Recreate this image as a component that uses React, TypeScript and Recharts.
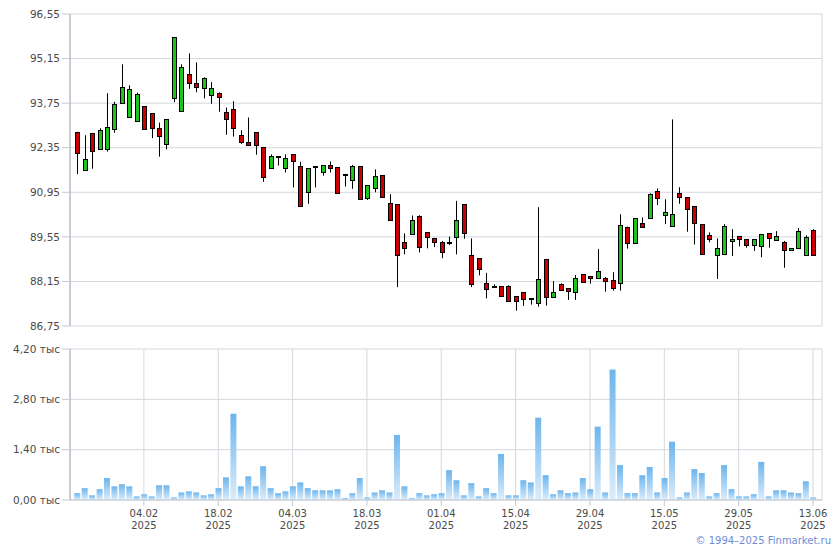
import { ComposedChart, Bar, XAxis, YAxis, CartesianGrid } from 'recharts'

// daily candles, 22.01.2025 .. 13.06.2025
const OPEN = [
  92.83, 91.64, 92.80, 92.30, 92.30, 92.93, 93.74, 93.30, 93.19, 93.65,
  93.43, 92.96, 92.48, 93.90, 93.50, 94.66, 94.37, 94.24, 94.00, 94.06,
  93.46, 93.56, 92.74, 92.52, 92.83, 92.36, 91.70, 92.06, 91.70, 92.14,
  91.77, 90.97, 91.76, 91.60, 91.81, 91.73, 91.52, 91.33, 91.78, 90.76,
  91.07, 91.48, 90.60, 90.57, 89.38, 89.63, 90.20, 89.70, 89.52, 89.38,
  89.38, 89.53, 90.57, 88.97, 88.88, 88.09, 88.01, 88.00, 88.00, 87.68,
  87.81, 87.63, 87.48, 88.84, 87.67, 88.06, 87.93, 87.83, 88.37, 88.32,
  88.25, 88.25, 88.21, 88.09, 89.87, 89.37, 89.98, 90.13, 90.99, 90.25,
  89.90, 90.92, 90.79, 90.51, 89.94, 89.60, 88.97, 89.00, 89.41, 89.57,
  89.47, 89.28, 89.25, 89.67, 89.46, 89.39, 89.13, 89.19, 88.97, 89.76,
]
const HIGH = [
  92.85, 92.74, 92.80, 92.96, 94.06, 93.79, 94.97, 94.31, 94.08, 93.65,
  93.43, 93.14, 93.24, 95.83, 94.97, 95.31, 95.03, 94.56, 94.41, 94.09,
  93.61, 93.81, 92.90, 93.30, 92.83, 92.36, 92.14, 92.09, 92.14, 92.14,
  91.91, 91.71, 91.77, 91.80, 91.92, 91.73, 91.53, 91.81, 91.78, 91.17,
  91.67, 91.48, 90.89, 90.57, 89.66, 90.22, 90.23, 89.70, 89.52, 89.42,
  89.56, 90.68, 90.57, 89.50, 88.88, 88.42, 88.06, 88.00, 88.03, 87.68,
  87.81, 87.63, 90.48, 88.84, 88.16, 88.09, 87.93, 88.35, 88.37, 88.32,
  89.17, 88.29, 88.44, 90.26, 89.87, 90.13, 90.16, 90.92, 91.07, 90.73,
  93.24, 91.11, 90.79, 90.51, 89.94, 89.69, 89.50, 89.95, 89.79, 89.57,
  89.47, 89.47, 89.64, 89.67, 89.73, 89.42, 89.19, 89.83, 89.60, 89.79,
]
const LOW = [
  91.52, 91.64, 91.69, 92.30, 92.23, 92.82, 93.74, 93.30, 93.19, 92.93,
  92.65, 92.07, 92.30, 93.78, 93.50, 94.20, 94.09, 93.90, 93.73, 93.48,
  92.76, 92.70, 92.47, 92.43, 92.13, 91.28, 91.70, 91.79, 91.57, 91.10,
  90.51, 90.59, 91.10, 91.47, 91.57, 90.92, 91.13, 91.06, 90.73, 90.71,
  90.95, 90.79, 90.07, 87.97, 89.00, 89.63, 89.06, 89.19, 89.23, 88.88,
  89.29, 89.00, 89.49, 87.97, 88.34, 87.62, 87.98, 87.70, 87.52, 87.23,
  87.38, 87.42, 87.36, 87.39, 87.67, 87.87, 87.57, 87.57, 88.12, 88.08,
  88.25, 87.83, 87.86, 87.86, 89.18, 89.37, 89.87, 90.13, 90.55, 89.95,
  89.90, 90.59, 89.71, 89.31, 89.00, 89.38, 88.23, 89.00, 88.95, 89.25,
  89.21, 89.11, 88.91, 89.21, 89.46, 88.58, 89.13, 89.19, 88.97, 88.97,
]
const CLOSE = [
  92.19, 91.99, 92.26, 92.91, 92.99, 93.71, 94.25, 94.18, 94.03, 92.93,
  92.96, 92.71, 93.24, 95.83, 94.87, 94.37, 94.27, 94.53, 94.22, 93.93,
  93.26, 92.96, 92.52, 92.43, 92.43, 91.42, 92.10, 92.08, 92.02, 91.92,
  90.51, 91.71, 91.73, 91.80, 91.72, 90.92, 91.50, 91.78, 90.73, 91.17,
  91.45, 90.79, 90.07, 88.97, 89.19, 90.08, 89.22, 89.54, 89.38, 89.07,
  89.37, 90.07, 89.68, 88.08, 88.53, 87.92, 87.99, 87.70, 87.52, 87.52,
  87.61, 87.62, 88.22, 87.67, 87.81, 87.87, 87.84, 88.25, 88.12, 88.25,
  88.47, 88.17, 87.93, 89.91, 89.35, 90.13, 89.87, 90.89, 90.78, 90.32,
  90.26, 90.81, 90.42, 89.98, 89.00, 89.49, 89.19, 89.89, 89.48, 89.47,
  89.28, 89.47, 89.64, 89.50, 89.58, 89.15, 89.19, 89.73, 89.55, 88.97,
]
// volume, thousands
const VOLUME = [
  0.19, 0.33, 0.13, 0.30, 0.61, 0.38, 0.44, 0.38, 0.10, 0.16,
  0.10, 0.41, 0.41, 0.07, 0.21, 0.24, 0.21, 0.13, 0.16, 0.33,
  0.63, 2.40, 0.38, 0.66, 0.38, 0.94, 0.33, 0.19, 0.24, 0.38,
  0.49, 0.33, 0.27, 0.27, 0.27, 0.30, 0.05, 0.19, 0.61, 0.07,
  0.21, 0.27, 0.21, 1.81, 0.38, 0.05, 0.19, 0.13, 0.16, 0.19,
  0.83, 0.55, 0.13, 0.47, 0.10, 0.33, 0.19, 1.28, 0.13, 0.13,
  0.55, 0.49, 2.29, 0.69, 0.16, 0.27, 0.19, 0.21, 0.61, 0.30,
  2.04, 0.21, 3.63, 0.97, 0.19, 0.19, 0.69, 0.92, 0.21, 0.61,
  1.62, 0.07, 0.21, 0.86, 0.75, 0.10, 0.19, 0.97, 0.30, 0.10,
  0.10, 0.16, 1.06, 0.10, 0.27, 0.27, 0.21, 0.19, 0.52, 0.07,
]

const TICK_IDX = [9, 19, 29, 39, 49, 59, 69, 79, 89, 99]
const TICK_DAYS = ['04.02', '18.02', '04.03', '18.03', '01.04', '15.04', '29.04', '15.05', '29.05', '13.06']
const TICK_YEARS = ['2025', '2025', '2025', '2025', '2025', '2025', '2025', '2025', '2025', '2025']
const PRICE_TICKS = [86.75, 88.15, 89.55, 90.95, 92.35, 93.75, 95.15, 96.55]
const VOL_TICKS = [0, 1.4, 2.8, 4.2]

const rows = OPEN.map((o, i) => ({ i, o, h: HIGH[i], l: LOW[i], c: CLOSE[i], v: VOLUME[i] }))

const FONT = '"DejaVu Sans", Verdana, sans-serif'
const GRID = '#d3d8dd'
const AXIS = '#a9abbf'
const TEXT = '#4a4a4a'
const X_DOMAIN: [number, number] = [-0.94, 100.21]

const comma = (v: number) => v.toFixed(2).replace('.', ',')

function Candle(props: any) {
  const { x, y, width, height, payload } = props
  const { o, h, l, c } = payload
  const k = h > l ? height / (h - l) : 0
  const at = (v: number) => y + (h - v) * k
  const cx = Math.round(x + width / 2) + 0.5
  const top = Math.round(at(Math.max(o, c))) + 0.5
  const bot = Math.round(at(Math.min(o, c))) + 0.5
  return (
    <g>
      <line x1={cx} x2={cx} y1={y} y2={y + height} stroke="#000" strokeWidth={1} />
      <rect
        x={cx - 2}
        y={top}
        width={4}
        height={Math.max(bot - top, 1)}
        fill={c >= o ? '#1cc41c' : '#cc0000'}
        stroke="#000"
        strokeWidth={1}
      />
    </g>
  )
}

function DateTick({ x, y, payload }: any) {
  const n = TICK_IDX.indexOf(payload.value)
  if (n < 0) return null
  return (
    <text x={x} y={y} textAnchor="middle" fill={TEXT} fontSize={10} fontFamily={FONT}>
      <tspan x={x} dy={9.5}>{TICK_DAYS[n]}</tspan>
      <tspan x={x} dy={12}>{TICK_YEARS[n]}</tspan>
    </text>
  )
}

export default function App() {
  return (
    <div style={{ position: 'absolute', left: 0, top: 0, width: 840, height: 550, background: '#fff', fontFamily: FONT }}>
      <div style={{ position: 'absolute', left: 0, top: 0 }}>
        <ComposedChart width={840} height={332} data={rows} margin={{ top: 14, right: 18, bottom: 6, left: 0 }}>
          <CartesianGrid stroke={GRID} />
          <XAxis
            dataKey="i"
            type="number"
            domain={X_DOMAIN}
            ticks={TICK_IDX}
            height={0}
            tick={false}
            axisLine={false}
            tickLine={false}
          />
          <YAxis
            width={70}
            domain={[86.75, 96.55]}
            ticks={PRICE_TICKS}
            tickFormatter={comma}
            tick={{ fill: TEXT, fontSize: 10.5, fontFamily: FONT }}
            tickSize={8}
            tickMargin={2}
            tickLine={{ stroke: '#c3c9d0' }}
            axisLine={{ stroke: AXIS }}
          />
          <Bar
            dataKey={(d: any) => [d.l, d.h]}
            barSize={6}
            shape={<Candle />}
            isAnimationActive={false}
          />
        </ComposedChart>
      </div>
      <div style={{ position: 'absolute', left: 0, top: 332 }}>
        <ComposedChart width={840} height={218} data={rows} margin={{ top: 17, right: 18, bottom: 14, left: 0 }}>
          <defs>
            <linearGradient id="volFill" x1="0" y1="0" x2="0" y2="1">
              <stop offset="0%" stopColor="#6cb5ee" />
              <stop offset="100%" stopColor="#dcedfb" />
            </linearGradient>
          </defs>
          <CartesianGrid stroke={GRID} />
          <XAxis
            dataKey="i"
            type="number"
            domain={X_DOMAIN}
            ticks={TICK_IDX}
            height={36}
            tick={<DateTick />}
            tickSize={6}
            tickMargin={1}
            tickLine={{ stroke: '#c3c9d0' }}
            axisLine={{ stroke: '#c3c9d0' }}
          />
          <YAxis
            width={70}
            domain={[0, 4.2]}
            ticks={VOL_TICKS}
            tickFormatter={(v: number) => comma(v) + ' тыс'}
            tick={{ fill: TEXT, fontSize: 10.5, fontFamily: FONT }}
            tickSize={8}
            tickMargin={2}
            tickLine={{ stroke: '#c3c9d0' }}
            axisLine={{ stroke: AXIS }}
          />
          <Bar dataKey="v" barSize={6} fill="url(#volFill)" isAnimationActive={false} />
        </ComposedChart>
      </div>
      <div
        style={{
          position: 'absolute',
          right: 9,
          top: 535,
          fontSize: 10,
          color: '#6d8ed6',
          fontFamily: FONT,
          whiteSpace: 'nowrap',
        }}
      >
        © 1994–2025 Finmarket.ru
      </div>
    </div>
  )
}
